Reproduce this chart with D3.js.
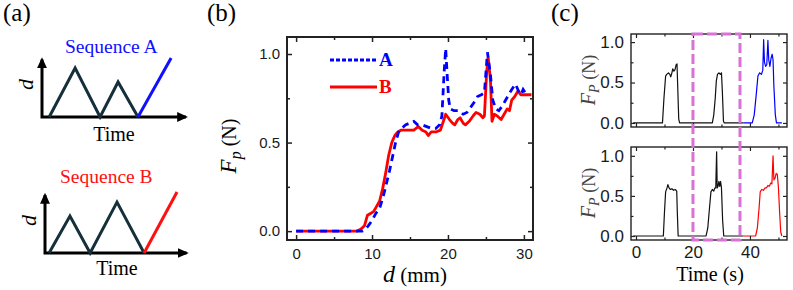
<!DOCTYPE html>
<html>
<head>
<meta charset="utf-8">
<script src="https://cdn.jsdelivr.net/npm/d3@7"></script>
<style>
  body { margin: 0; background: #fff; }
</style>
</head>
<body>
<div class="container"></div>
<script>
// ---------- data ----------
// (a) schematic sequences: [time, displacement] vertices (arbitrary units)
const seqA = [[0.3, 0], [1.38, 2.04], [2.42, 0], [3.17, 1.46], [4.0, 0]];
const seqAFinal = [[4.0, 0], [5.38, 2.46]];
const seqB = [[0.17, 0], [1.04, 1.54], [1.88, 0], [3.0, 2.12], [4.13, 0]];
const seqBFinal = [[4.13, 0], [5.5, 2.54]];
const schemeLabels = ["Sequence A", "Sequence B"];

// (b) pull force vs displacement, [d (mm), Fp (N)]
const curveA = [[0,0],[8.7,0],[9.1,0.01],[9.5,0.03],[10.0,0.06],[10.5,0.1],[11.0,0.13],[11.5,0.2],[11.9,0.27],
  [12.3,0.34],[12.7,0.42],[13.1,0.5],[13.5,0.56],[13.9,0.58],[14.4,0.6],[15.0,0.61],[15.5,0.62],[16.0,0.6],
  [16.6,0.6],[17.2,0.59],[17.8,0.58],[18.4,0.58],[18.9,0.6],[19.2,0.65],[19.5,0.9],[19.7,1.03],[19.9,0.88],
  [20.1,0.74],[20.3,0.69],[20.8,0.68],[21.4,0.68],[22.0,0.66],[22.5,0.67],[23.0,0.7],[23.5,0.73],[23.9,0.76],
  [24.4,0.77],[24.8,0.78],[25.2,1.01],[25.6,0.88],[25.9,0.74],[26.3,0.69],[26.7,0.68],[27.2,0.71],[27.6,0.74],
  [28.0,0.77],[28.4,0.8],[28.9,0.83],[29.3,0.79],[29.6,0.77],[29.9,0.8],[30.2,0.78]];
const curveB = [[0,0],[8.0,0],[8.5,0.01],[9.0,0.03],[9.4,0.09],[9.8,0.1],[10.2,0.11],[10.6,0.14],[11.0,0.17],
  [11.4,0.24],[11.8,0.33],[12.2,0.43],[12.6,0.5],[13.0,0.54],[13.4,0.56],[13.8,0.57],[14.5,0.57],[15.5,0.57],
  [16.1,0.59],[16.6,0.57],[17.1,0.56],[17.4,0.54],[17.8,0.56],[18.4,0.56],[19.0,0.57],[19.4,0.62],[19.7,0.66],
  [20.2,0.63],[20.6,0.61],[20.9,0.6],[21.3,0.63],[21.6,0.64],[22.0,0.61],[22.3,0.6],[22.8,0.62],[23.3,0.65],
  [23.7,0.67],[24.2,0.66],[24.6,0.64],[24.8,0.65],[25.1,0.9],[25.3,0.98],[25.6,0.85],[25.8,0.62],[26.1,0.66],
  [26.5,0.65],[27.0,0.63],[27.4,0.66],[27.8,0.69],[28.1,0.68],[28.4,0.74],[28.8,0.76],[29.2,0.79],[29.6,0.77],
  [30.2,0.77],[31.0,0.77]];
const legendNames = ["A", "B"];

// (c) force vs time, [t (s), Fp (N)]
const topBlack = [[-1,0],[9.3,0],[9.8,0.3],[10.4,0.58],[10.8,0.6],[11.4,0.62],[11.9,0.6],[12.2,0.57],[12.6,0.62],
  [12.9,0.67],[13.3,0.64],[13.7,0.66],[14.1,0.72],[14.4,0.73],[14.6,0.5],[15.0,0.05],[15.3,0],[26.8,0],[27.3,0.1],
  [27.8,0.3],[28.2,0.52],[28.6,0.6],[29.1,0.62],[29.6,0.6],[30.0,0.62],[30.3,0.4],[30.7,0.02],[31,0],[37.7,0]];
const topBlue = [[37.7,0],[40.8,0],[41.5,0.1],[42.2,0.35],[42.8,0.58],[43.4,0.62],[44,0.6],[44.5,0.65],[44.8,1.03],
  [45.1,0.75],[45.5,0.7],[45.9,0.72],[46.3,1.02],[46.6,0.78],[47,0.7],[47.4,0.8],[47.8,0.85],[48.1,0.78],
  [48.4,0.45],[48.9,0.1],[49.3,0],[51.2,0]];
const bottomBlack = [[-1,0],[9.6,0],[10.0,0.3],[10.4,0.55],[10.9,0.6],[11.2,0.64],[11.6,0.6],[12.1,0.58],[12.6,0.59],
  [13.2,0.57],[13.8,0.58],[14.3,0.56],[14.5,0.3],[14.8,0],[24.6,0],[25.2,0.1],[25.8,0.35],[26.3,0.55],[26.8,0.58],
  [27.3,0.56],[27.7,0.6],[28.0,0.6],[28.3,1.05],[28.5,0.6],[28.8,0.62],[29.1,0.68],[29.4,0.62],[29.7,0.68],
  [30.0,0.6],[30.4,0.2],[30.8,0],[37.7,0]];
const bottomRed = [[37.7,0],[42.0,0],[42.6,0.1],[43.2,0.35],[43.6,0.55],[44.1,0.58],[44.7,0.57],[45.3,0.6],[45.8,0.6],
  [46.3,0.63],[46.8,0.62],[47.3,0.66],[47.7,0.65],[48.1,1.0],[48.4,0.7],[48.8,0.72],[49.2,0.78],[49.6,0.77],
  [50.0,0.6],[50.4,0.3],[50.8,0.05],[51.2,0]];
const boxTime = [20, 36.5];

// tick values
const bXMajor = [0, 10, 20, 30], bXMinor = [5, 15, 25];
const cXMajor = [0, 20, 40], cXMinor = [10, 30, 50];
const yMajor = [0, 0.5, 1.0], yMinor = [0.25, 0.75];

// ---------- setup ----------
const width = 793, height = 290;
const serif = "'Liberation Serif', 'Times New Roman', serif";
const sans = "'Liberation Sans', Arial, sans-serif";

const svg = d3.select(".container").append("svg")
  .attr("width", width)
  .attr("height", height)
  .style("font-family", serif);

svg.append("defs").append("marker")
  .attr("id", "arrow")
  .attr("viewBox", "0 0 10 10")
  .attr("refX", 8).attr("refY", 5)
  .attr("markerWidth", 11).attr("markerHeight", 11)
  .attr("markerUnits", "userSpaceOnUse")
  .attr("orient", "auto-start-reverse")
  .append("path")
  .attr("d", "M0,0.5 L10,5 L0,9.5 z")
  .attr("fill", "#000");

// panel letters
[["(a)", 3], ["(b)", 207], ["(c)", 551]].forEach(([t, x]) => {
  svg.append("text").attr("x", x).attr("y", 21)
    .style("font-size", "25px").text(t);
});

// ---------- (a) schematics ----------
function schematic(origin, seq, last, color, label, axisEnd, labelPos, timeY) {
  const x = d3.scaleLinear().domain([0, 1]).range([origin[0], origin[0] + 24]);
  const y = d3.scaleLinear().domain([0, 1]).range([origin[1], origin[1] - 24]);
  const line = d3.line().x(d => x(d[0])).y(d => y(d[1]));
  const g = svg.append("g");

  g.append("path")
    .attr("d", line([[0, axisEnd[1]], [0, 0], [axisEnd[0], 0]]))
    .attr("fill", "none").attr("stroke", "#000").attr("stroke-width", 3)
    .attr("marker-start", "url(#arrow)").attr("marker-end", "url(#arrow)");
  g.append("path").attr("d", line(seq))
    .attr("fill", "none").attr("stroke", "#15303a").attr("stroke-width", 3)
    .attr("stroke-linejoin", "miter");
  g.append("path").attr("d", line(last))
    .attr("fill", "none").attr("stroke", color).attr("stroke-width", 3);

  g.append("text").attr("x", labelPos[0]).attr("y", labelPos[1])
    .attr("fill", color).style("font-size", "19.5px").text(label);
  g.append("text").attr("x", x(3.0)).attr("y", timeY)
    .attr("text-anchor", "middle").style("font-size", "20px").text("Time");
  g.append("text")
    .attr("transform", `translate(${origin[0] - 9},${y(1.35)}) rotate(-90)`)
    .attr("text-anchor", "middle")
    .style("font-size", "22px").style("font-style", "italic").text("d");
}
schematic([42, 117], seqA, seqAFinal, "#1010ff", schemeLabels[0], [6.0, 2.4], [65, 53], 141);
schematic([45, 253], seqB, seqBFinal, "#ff1010", schemeLabels[1], [5.9, 2.42], [60, 183], 275);

// ---------- shared axis helper ----------
function frameAxes(g, x, y, opt) {
  const [x0, x1] = x.range();
  const [y0, y1] = y.range();
  const major = opt.major, minor = opt.minor;
  const fmtX = opt.xLabels ? d3.format("d") : "";

  g.append("g").attr("transform", `translate(0,${y0})`)
    .call(d3.axisBottom(x).tickValues(opt.xMajor).tickSize(-major).tickPadding(opt.xPad).tickFormat(fmtX));
  g.append("g").attr("transform", `translate(0,${y0})`)
    .call(d3.axisBottom(x).tickValues(opt.xMinor).tickSize(-minor).tickFormat(""));
  g.append("g").attr("transform", `translate(0,${y1})`)
    .call(d3.axisTop(x).tickValues(opt.xMajor).tickSize(-major).tickFormat(""));
  g.append("g").attr("transform", `translate(0,${y1})`)
    .call(d3.axisTop(x).tickValues(opt.xMinor).tickSize(-minor).tickFormat(""));
  g.append("g").attr("transform", `translate(${x0},0)`)
    .call(d3.axisLeft(y).tickValues(yMajor).tickSize(-major).tickPadding(7).tickFormat(d3.format(".1f")));
  g.append("g").attr("transform", `translate(${x0},0)`)
    .call(d3.axisLeft(y).tickValues(yMinor).tickSize(-minor).tickFormat(""));
  g.append("g").attr("transform", `translate(${x1},0)`)
    .call(d3.axisRight(y).tickValues(yMajor).tickSize(-major).tickFormat(""));
  g.append("g").attr("transform", `translate(${x1},0)`)
    .call(d3.axisRight(y).tickValues(yMinor).tickSize(-minor).tickFormat(""));

  g.selectAll(".domain").remove();
  g.selectAll(".tick line").attr("stroke", "#222").attr("stroke-width", opt.tickWidth);
  g.selectAll(".tick text")
    .style("font-family", sans).style("font-size", opt.fontSize + "px").attr("fill", "#1a1a1a");

  g.append("rect")
    .attr("x", x0).attr("y", y1)
    .attr("width", x1 - x0).attr("height", y0 - y1)
    .attr("fill", "none").attr("stroke", "#222").attr("stroke-width", opt.frameWidth);
}

// ---------- (b) ----------
const xb = d3.scaleLinear().domain([-1.2, 31.2]).range([287, 533]);
const yb = d3.scaleLinear().domain([-0.05, 1.096]).range([240, 37]);
const gb = svg.append("g");
const lineB = d3.line().x(d => xb(d[0])).y(d => yb(d[1]));

gb.append("path").attr("d", lineB(curveB))
  .attr("fill", "none").attr("stroke", "#ff0000").attr("stroke-width", 2.8)
  .attr("stroke-linejoin", "round");
gb.append("path").attr("d", lineB(curveA))
  .attr("fill", "none").attr("stroke", "#0000ff").attr("stroke-width", 2.8)
  .attr("stroke-dasharray", "7,5");

frameAxes(gb, xb, yb, {
  xMajor: bXMajor, xMinor: bXMinor, xLabels: true, xPad: 8,
  major: 5, minor: 3, fontSize: 15, tickWidth: 1.5, frameWidth: 2
});

// legend
const legend = gb.append("g");
legendNames.forEach((name, i) => {
  const ly = 60 + i * 27;
  legend.append("line")
    .attr("x1", 330).attr("x2", 377).attr("y1", ly).attr("y2", ly)
    .attr("stroke", i === 0 ? "#0000ff" : "#ff0000").attr("stroke-width", 3)
    .attr("stroke-dasharray", i === 0 ? "4,2" : null);
  legend.append("text")
    .attr("x", 379).attr("y", ly + 6)
    .attr("fill", i === 0 ? "#0000ff" : "#ff0000")
    .style("font-size", "19px").style("font-weight", "bold").text(name);
});

// axis titles
const ybTitle = gb.append("text")
  .attr("transform", "translate(236,146) rotate(-90)")
  .attr("text-anchor", "middle").style("font-size", "20px");
ybTitle.append("tspan").style("font-style", "italic").style("font-size", "23px").text("F");
ybTitle.append("tspan").style("font-style", "italic").style("font-size", "16px").attr("dy", 5).text("p");
ybTitle.append("tspan").attr("dy", -5).text(" (N)");

const xbTitle = gb.append("text")
  .attr("x", 415).attr("y", 282)
  .attr("text-anchor", "middle").style("font-size", "21px");
xbTitle.append("tspan").style("font-style", "italic").style("font-size", "24px").text("d");
xbTitle.append("tspan").text(" (mm)");

// ---------- (c) ----------
const xc = d3.scaleLinear().domain([-1.75, 53]).range([631, 787]);
const yTop = d3.scaleLinear().domain([-0.05, 1.1]).range([127, 34]);
const yBot = d3.scaleLinear().domain([-0.05, 1.11]).range([240, 147]);

function subplot(y, traces, xLabels, titleY) {
  const g = svg.append("g");
  const line = d3.line().x(d => xc(d[0])).y(d => y(d[1]));
  traces.forEach(([data, color]) => {
    g.append("path").attr("d", line(data))
      .attr("fill", "none").attr("stroke", color).attr("stroke-width", 1.2)
      .attr("stroke-linejoin", "round");
  });
  frameAxes(g, xc, y, {
    xMajor: cXMajor, xMinor: cXMinor, xLabels: xLabels, xPad: 6,
    major: 4, minor: 2.5, fontSize: 17, tickWidth: 1.2, frameWidth: 1.4
  });
  const t = g.append("text")
    .attr("transform", `translate(595,${titleY}) rotate(-90)`)
    .attr("text-anchor", "middle").attr("fill", "#444").style("font-size", "18px");
  t.append("tspan").style("font-style", "italic").style("font-size", "20px").text("F");
  t.append("tspan").style("font-style", "italic").style("font-size", "14px").attr("dy", 4).text("P");
  t.append("tspan").attr("dy", -4).text(" (N)");
}
subplot(yTop, [[topBlack, "#111"], [topBlue, "#0000ff"]], false, 80);
subplot(yBot, [[bottomBlack, "#111"], [bottomRed, "#ff0000"]], true, 193);

svg.append("text")
  .attr("x", 710).attr("y", 281)
  .attr("text-anchor", "middle").style("font-size", "20px").text("Time (s)");

// highlighted time window across both subplots
svg.append("rect")
  .attr("x", xc(boxTime[0])).attr("y", yTop.range()[1])
  .attr("width", xc(boxTime[1]) - xc(boxTime[0]))
  .attr("height", yBot.range()[0] - yTop.range()[1])
  .attr("fill", "none").attr("stroke", "#d872d6").attr("stroke-width", 3)
  .attr("stroke-dasharray", "10,4");
</script>
</body>
</html>
